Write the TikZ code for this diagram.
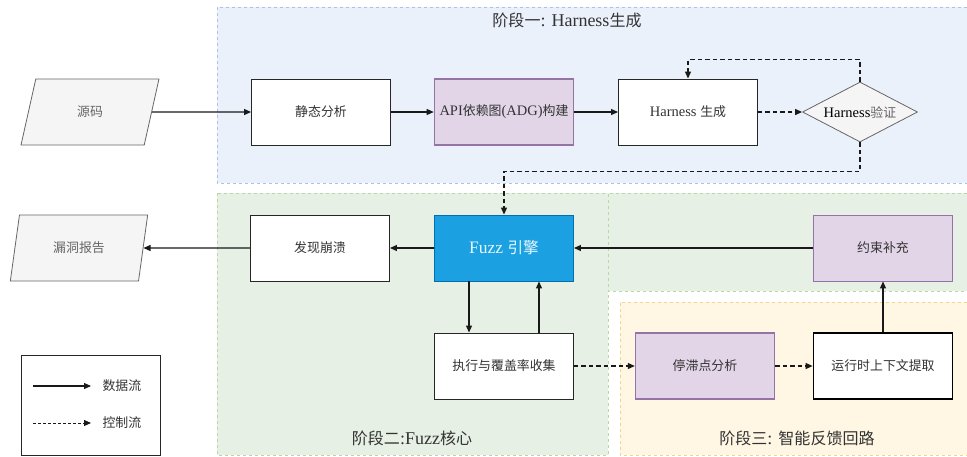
\documentclass[tikz,border=0pt]{standalone}
\usepackage{fontspec}
\setmainfont{Liberation Serif}
\newfontfamily\cjk[Scale=0.89]{Noto Sans CJK SC}
\usetikzlibrary{shapes.geometric, arrows.meta, positioning}
\definecolor{s1fill}{HTML}{EAF1FB}
\definecolor{s1line}{HTML}{A9C4EB}
\definecolor{s2fill}{HTML}{E7F0E5}
\definecolor{s2line}{HTML}{B9D8A8}
\definecolor{s3fill}{HTML}{FFF7E3}
\definecolor{s3line}{HTML}{F0D58A}
\definecolor{pfill}{HTML}{E1D5E7}
\definecolor{pline}{HTML}{9673A6}
\definecolor{gfill}{HTML}{F5F5F5}
\definecolor{gline}{HTML}{666666}
\definecolor{fuzzfill}{HTML}{1BA1E2}
\definecolor{fuzzline}{HTML}{006EAF}
\definecolor{txt}{HTML}{333333}

\begin{document}
\begin{tikzpicture}[x=1pt, y=-1pt, font=\fontsize{14.5}{16}\selectfont,
    box/.style={draw=black!85, fill=white, line width=0.9pt, text=txt,
        minimum width=139pt, minimum height=66pt, inner sep=1pt},
    pbox/.style={box, draw=pline, fill=pfill},
    io/.style={trapezium, trapezium left angle=76.5, trapezium right angle=103.5,
        trapezium stretches=true, draw=gline, fill=gfill, text=gline,
        minimum width=138pt, minimum height=66pt, line width=0.8pt},
    stage/.style={dash pattern=on 3pt off 3pt, line width=0.7pt},
    title/.style={font=\fontsize{18}{20}\selectfont, text=txt},
    flow/.style={-{Triangle[length=7pt,width=6pt]}, line width=1.1pt, black!90},
    ctrl/.style={flow, dash pattern=on 4.5pt off 3pt}]
    \useasboundingbox (0,0) rectangle (967,456);

    % Stage areas
    \fill[s1fill] (217,7) rectangle (967,183);
    \draw[stage, s1line] (967,7) -- (217,7) -- (217,183) -- (967,183);
    \filldraw[stage, s2line, fill=s2fill] (217,193) rectangle (608,455);
    \fill[s2fill] (608,193) rectangle (967,291);
    \draw[stage, s2line] (967,193) -- (608,193) -- (608,291) -- (967,291);
    \fill[s3fill] (620,302) rectangle (967,455);
    \draw[stage, s3line] (967,302) -- (620,302) -- (620,455) -- (967,455);

    \node[title] (t1) at (567,20) {{\cjk 阶段一}: Harness{\cjk 生成}};
    \node[title] (t2) at (412,438) {{\cjk 阶段二}:Fuzz{\cjk 核心}};
    \node[title] (t3) at (797,438) {{\cjk 阶段三}: {\cjk 智能反馈回路}};

    % Stage 1
    \node[io] (src) at (90,112) {\cjk 源码};
    \node[box] (static) at (321,112) {\cjk 静态分析};
    \node[pbox, line width=1.6pt] (adg) at (504,112) {API{\cjk 依赖图}(ADG){\cjk 构建}};
    \node[box] (hgen) at (688,112) {Harness {\cjk 生成}};
    \node[diamond, draw=gline, fill=gfill, line width=0.8pt, text=black,
        minimum width=115pt, minimum height=60pt, inner sep=0pt, aspect=2.5]
        (verify) at (860,112) {Harness{\color{gline}\cjk 验证}};

    % Stage 2
    \node[io] (report) at (79,248) {\cjk 漏洞报告};
    \node[box] (crash) at (320,248) {\cjk 发现崩溃};
    \node[box, draw=fuzzline, fill=fuzzfill, text=white!90!fuzzfill,
        font=\fontsize{17.5}{19}\selectfont] (fuzz) at (504,248) {Fuzz {\cjk 引擎}};
    \node[box] (exec) at (504,366) {\cjk 执行与覆盖率收集};

    % Stage 3
    \node[pbox] (constr) at (883,248) {\cjk 约束补充};
    \node[pbox, line width=1.4pt] (stall) at (705,366) {\cjk 停滞点分析};
    \node[box, draw=black, line width=1.8pt] (ctx) at (883,366) {\cjk 运行时上下文提取};

    % Connectors
    \draw[flow] (src) -- (static);
    \draw[flow] (static) -- (adg);
    \draw[flow] (adg) -- (hgen);
    \draw[ctrl] (hgen) -- (verify);
    \draw[ctrl] (verify.north) -- ++(0,-22) -| (hgen.north);
    \draw[ctrl] (verify.south) -- ++(0,29) -| (fuzz.north);
    \draw[flow] (fuzz) -- (crash);
    \draw[flow] (crash) -- (report);
    \draw[flow] ([xshift=-35pt]fuzz.south) -- ([xshift=-35pt]exec.north);
    \draw[flow] ([xshift=35pt]exec.north) -- ([xshift=35pt]fuzz.south);
    \draw[flow] (constr) -- (fuzz);
    \draw[ctrl] (exec) -- (stall);
    \draw[ctrl] (stall) -- (ctx);
    \draw[flow] (ctx) -- (constr);

    % Legend
    \node[draw=black!85, line width=0.9pt, minimum width=139pt, minimum height=100pt]
        (legend) at (90.5,405) {};
    \coordinate (d1) at (33,386);
    \coordinate (d2) at (91,386);
    \coordinate (c1) at (33,423);
    \coordinate (c2) at (91,423);
    \draw[flow] (d1) -- (d2);
    \draw[ctrl, line width=0.9pt, dash pattern=on 3pt off 2pt] (c1) -- (c2);
    \node[text=txt, right=8pt of d2] (ldata) {\cjk 数据流};
    \node[text=txt, right=8pt of c2] (lctrl) {\cjk 控制流};
\end{tikzpicture}
\end{document}
